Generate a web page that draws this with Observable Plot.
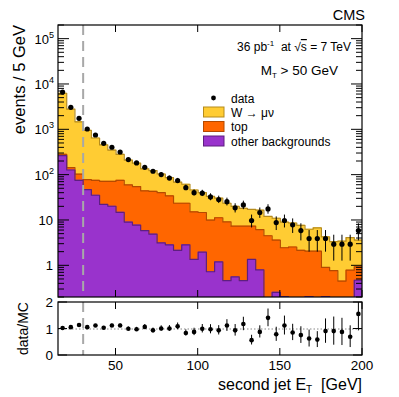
<!DOCTYPE html>
<html><head><meta charset="utf-8">
<script src="https://cdn.jsdelivr.net/npm/d3@7"></script>
<script src="https://cdn.jsdelivr.net/npm/@observablehq/plot@0.6"></script>
<style>
body{margin:0;background:#fff;}
#c{position:relative;width:399px;height:397px;font-family:"Liberation Sans",Arial,Helvetica,sans-serif;}
#c svg{position:absolute;left:0;}
</style></head><body><div id="c"></div>
<script>
// ---- data ----
const binEdges = [15,20,25,30,35,40,45,50,55,60,65,70,75,80,85,90,95,100,105,110,115,120,125,130,135,140,145,150,155,160,165,170,175,180,185,190,195,200];
const binCenters = [17.5,22.5,27.5,32.5,37.5,42.5,47.5,52.5,57.5,62.5,67.5,72.5,77.5,82.5,87.5,92.5,97.5,102.5,107.5,112.5,117.5,122.5,127.5,132.5,137.5,142.5,147.5,152.5,157.5,162.5,167.5,172.5,177.5,182.5,187.5,192.5,197.5];
const dataEvents = [6800,3130,1790,1042,768,504,412,324,220,186,149,122,103,86,76,53,41,40,33,29,26,19,22,10,15,18,9,10,8,6,4,4,4,3,3,3,6];
// stacked tops: W->mu nu + top + other, top + other, other backgrounds
const stackAll = [6400,2850,1500,975,660,465,358,288,215,184,138,126,106,88,70,63,47,41,34,31,24,20.5,18.5,17.5,16.9,12.3,11.2,9.2,8.8,7.8,6.4,6.9,4.35,3.4,3.5,4.2,3.7];
const stackTopOther = [288,147,105,80,77,73,73,77,61,56,45,44,41,35,24,24,15.5,15,10.2,11.5,9.3,7.5,7.5,7.5,6.3,4.6,3.7,2.5,2.6,2.2,2.1,2.1,0.92,0.78,0.46,0.80,0.95];
const stackOther = [270,130,77,48,36,22.6,20.6,15.1,9.2,7.9,6.0,5.0,3.2,2.9,2.2,2.9,1.38,2.0,0.74,1.22,0.47,0.57,0.47,1.38,0.81,0,0.26,0.21,0,0,0.21,0,0.21,0,0,0,0.48];
const ratioValues = [1.04,1.07,1.15,1.07,1.13,1.05,1.13,1.13,1.01,0.99,1.08,0.95,1.02,1.02,1.10,0.85,0.89,1.01,0.99,0.95,1.13,0.95,1.19,0.58,0.89,1.42,0.80,1.13,0.87,0.77,0.64,0.60,0.92,0.92,0.89,0.71,1.57];
const jetCut = 30;
const xDomain = [15, 200];
const yDomain = [0.2, 2e5];
const ratioDomain = [0, 2];
const xTicks = [50, 100, 150, 200];
const yDecades = [1, 10, 100, 1000, 10000, 100000];
const yDecadeExp = ["0", "1", "2", "3", "4", "5"];
const ratioTicks = [0, 1, 2];
const legendLabels = ["data", "W \u2192 \u03bc\u03bd", "top", "other backgrounds"];

const colW = "#ffcc33", colTop = "#ff6600", colOther = "#9933cc";
const lnW = "#b58b1c", lnTop = "#b54a00", lnOther = "#5e1f80";
const FONT = "Liberation Sans, Arial, Helvetica, sans-serif";
const floor = yDomain[0];

const stepRows = binEdges.map((e, i) => {
  const j = Math.min(i, binCenters.length - 1);
  return {x: e, all: stackAll[j], to: stackTopOther[j], ot: Math.max(stackOther[j], floor)};
});
const pts = binCenters.map((c, i) => ({c, n: dataEvents[i], r: ratioValues[i]}));

const c = document.getElementById("c");

const main = Plot.plot({
  width: 399, height: 300,
  marginLeft: 58, marginRight: 37, marginTop: 25, marginBottom: 3,
  style: {background: "transparent", overflow: "visible"},
  x: {domain: xDomain, axis: null},
  y: {type: "log", domain: yDomain, axis: null},
  marks: [
    Plot.areaY(stepRows, {x: "x", y1: () => floor, y2: "all", curve: "step-after", fill: colW, clip: true}),
    Plot.line(stepRows, {x: "x", y: "all", curve: "step-after", stroke: lnW, strokeWidth: 1.2, clip: true}),
    Plot.areaY(stepRows, {x: "x", y1: () => floor, y2: "to", curve: "step-after", fill: colTop, clip: true}),
    Plot.line(stepRows, {x: "x", y: "to", curve: "step-after", stroke: lnTop, strokeWidth: 1.2, clip: true}),
    Plot.areaY(stepRows, {x: "x", y1: () => floor, y2: "ot", curve: "step-after", fill: colOther, clip: true}),
    Plot.line(stepRows, {x: "x", y: "ot", curve: "step-after", stroke: lnOther, strokeWidth: 1.2, clip: true}),
    Plot.ruleX([jetCut], {stroke: "#a8a8a8", strokeWidth: 2, strokeDasharray: "10,6"}),
    Plot.ruleX(pts, {x: "c", y1: d => Math.max(d.n - Math.sqrt(d.n), floor), y2: d => d.n + Math.sqrt(d.n), stroke: "black", strokeWidth: 1, clip: true}),
    Plot.dot(pts, {x: "c", y: "n", r: 2.6, fill: "black"})
  ]
});
main.style.top = "0px";
c.appendChild(main);

const ratio = Plot.plot({
  width: 399, height: 100,
  marginLeft: 58, marginRight: 37, marginTop: 5, marginBottom: 42,
  style: {background: "transparent", overflow: "visible"},
  x: {domain: xDomain, axis: null},
  y: {domain: ratioDomain, axis: null},
  marks: [
    Plot.ruleY([1], {stroke: "#888", strokeDasharray: "1.5,2", strokeWidth: 1}),
    Plot.ruleX([jetCut], {stroke: "#a8a8a8", strokeWidth: 2, strokeDasharray: "10,6"}),
    Plot.ruleX(pts, {x: "c", y1: d => d.r - d.r / Math.sqrt(d.n), y2: d => d.r + d.r / Math.sqrt(d.n), stroke: "black", strokeWidth: 1, clip: true}),
    Plot.dot(pts, {x: "c", y: "r", r: 2.3, fill: "black"})
  ]
});
ratio.style.top = "297px";
c.appendChild(ratio);

function txt(g, x, y, s, size, anchor) {
  return g.append("text").attr("x", x).attr("y", y).attr("font-family", FONT)
    .attr("font-size", size).attr("fill", "black").attr("text-anchor", anchor || "start").text(s);
}

// ---- main frame, ticks, labels ----
(function () {
  const sx = main.scale("x"), sy = main.scale("y");
  const x0 = sx.range[0], x1 = sx.range[1];
  const yb = sy.range[0], yt = sy.range[1];
  const g = d3.select(main).append("g");
  const t = g.append("g").attr("stroke", "black").attr("stroke-width", 1);
  xTicks.forEach(v => {
    const X = sx.apply(v);
    t.append("line").attr("x1", X).attr("x2", X).attr("y1", yb).attr("y2", yb - 7);
    t.append("line").attr("x1", X).attr("x2", X).attr("y1", yt).attr("y2", yt + 7);
  });
  yDecades.forEach(v => {
    [1,2,3,4,5,6,7,8,9].forEach(k => {
      [v / 10 * k, v * k].forEach(() => {});
    });
  });
  const minorVals = [];
  [0.1, 1, 10, 100, 1000, 10000, 100000].forEach(d => [2,3,4,5,6,7,8,9].forEach(k => minorVals.push(d * k)));
  minorVals.filter(v => v >= yDomain[0] && v <= yDomain[1]).forEach(v => {
    const Y = sy.apply(v);
    t.append("line").attr("x1", x0).attr("x2", x0 + 6).attr("y1", Y).attr("y2", Y);
    t.append("line").attr("x1", x1).attr("x2", x1 - 6).attr("y1", Y).attr("y2", Y);
  });
  yDecades.forEach((v, i) => {
    const Y = sy.apply(v);
    t.append("line").attr("x1", x0).attr("x2", x0 + 11).attr("y1", Y).attr("y2", Y);
    t.append("line").attr("x1", x1).attr("x2", x1 - 11).attr("y1", Y).attr("y2", Y);
    if (i === 0) txt(g, x0 - 5, Y + 5, "1", 13, "end");
    else if (i === 1) txt(g, x0 - 5, Y + 5, "10", 13, "end");
    else {
      const tt = g.append("text").attr("x", x0 - 4).attr("y", Y + 5).attr("font-family", FONT)
        .attr("font-size", 13).attr("text-anchor", "end").attr("fill", "black");
      tt.append("tspan").text("10");
      tt.append("tspan").attr("font-size", 9).attr("dy", -6).text(yDecadeExp[i]);
    }
  });
  g.append("rect").attr("x", x0).attr("y", yt).attr("width", x1 - x0).attr("height", yb - yt)
    .attr("fill", "none").attr("stroke", "black").attr("stroke-width", 1.2);
  // y title
  txt(g, 0, 0, "events / 5 GeV", 16.5, "end").attr("transform", `translate(25,${yt}) rotate(-90)`);
  // CMS + annotation
  txt(g, 365, 20, "CMS", 14.5, "end");
  const a = g.append("text").attr("x", 351).attr("y", 51).attr("font-family", FONT).attr("font-size", 12)
    .attr("text-anchor", "end").attr("fill", "black");
  a.append("tspan").text("36 pb");
  a.append("tspan").attr("font-size", 8).attr("dy", -5).text("-1");
  a.append("tspan").attr("dy", 5).text("  at \u221a");
  a.append("tspan").attr("text-decoration", "overline").text("s");
  a.append("tspan").text(" = 7 TeV");
  const m = g.append("text").attr("x", 338).attr("y", 75).attr("font-family", FONT).attr("font-size", 13.5)
    .attr("text-anchor", "end").attr("fill", "black");
  m.append("tspan").text("M");
  m.append("tspan").attr("font-size", 8).attr("dy", 3).text("T");
  m.append("tspan").attr("dy", -3).text(" > 50 GeV");
  // legend
  const lg = g.append("g");
  lg.append("circle").attr("cx", 213.5).attr("cy", 98).attr("r", 2.4).attr("fill", "black");
  txt(lg, 231, 102.5, legendLabels[0], 12);
  const boxes = [[colW, lnW], [colTop, lnTop], [colOther, lnOther]];
  boxes.forEach((b, i) => {
    const y = 107 + i * 14.5;
    lg.append("rect").attr("x", 203.5).attr("y", y).attr("width", 20.5).attr("height", 10)
      .attr("fill", b[0]).attr("stroke", b[1]).attr("stroke-width", 1);
    txt(lg, 231, y + 9.5, legendLabels[i + 1], 12);
  });
})();

// ---- ratio frame, ticks, labels ----
(function () {
  const sx = ratio.scale("x"), sy = ratio.scale("y");
  const x0 = sx.range[0], x1 = sx.range[1];
  const yb = sy.range[0], yt = sy.range[1];
  const g = d3.select(ratio).append("g");
  const t = g.append("g").attr("stroke", "black").attr("stroke-width", 1);
  xTicks.forEach(v => {
    const X = sx.apply(v);
    t.append("line").attr("x1", X).attr("x2", X).attr("y1", yb).attr("y2", yb - 7);
    t.append("line").attr("x1", X).attr("x2", X).attr("y1", yt).attr("y2", yt + 7);
    txt(g, X, yb + 14.5, String(v), 13.5, "middle");
  });
  ratioTicks.forEach(v => {
    const Y = sy.apply(v);
    t.append("line").attr("x1", x0).attr("x2", x0 + 9).attr("y1", Y).attr("y2", Y);
    t.append("line").attr("x1", x1).attr("x2", x1 - 9).attr("y1", Y).attr("y2", Y);
    txt(g, x0 - 5, Y + 5, String(v), 13.5, "end");
  });
  g.append("rect").attr("x", x0).attr("y", yt).attr("width", x1 - x0).attr("height", yb - yt)
    .attr("fill", "none").attr("stroke", "black").attr("stroke-width", 1.2);
  txt(g, 0, 0, "data/MC", 14, "middle").attr("transform", `translate(28,${(yt + yb) / 2}) rotate(-90)`);
  const xt = g.append("text").attr("x", x1).attr("y", yb + 35).attr("font-family", FONT).attr("font-size", 16)
    .attr("text-anchor", "end").attr("fill", "black");
  xt.append("tspan").text("second jet E");
  xt.append("tspan").attr("font-size", 10).attr("dy", 3).text("T");
  xt.append("tspan").attr("dy", -3).attr("xml:space", "preserve").text("\u00a0 [GeV]");
})();
</script></body></html>
